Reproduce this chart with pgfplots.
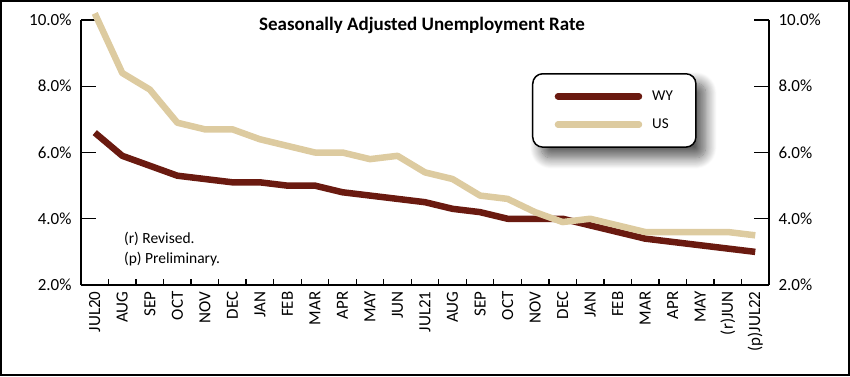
\documentclass[border=0pt]{standalone}
\usepackage{pgfplots}
\pgfplotsset{compat=1.18}
\usepackage{fontspec}
\setmainfont{Carlito}
\usetikzlibrary{shadows.blur}
\pgfdeclarelayer{background}
\pgfsetlayers{background,main}
\definecolor{wy}{HTML}{6A1A10}
\definecolor{us}{HTML}{DDCBA0}

\pgfplotstableread{
x wy us
0 6.6 10.2
1 5.9 8.4
2 5.6 7.9
3 5.3 6.9
4 5.2 6.7
5 5.1 6.7
6 5.1 6.4
7 5.0 6.2
8 5.0 6.0
9 4.8 6.0
10 4.7 5.8
11 4.6 5.9
12 4.5 5.4
13 4.3 5.2
14 4.2 4.7
15 4.0 4.6
16 4.0 4.2
17 4.0 3.9
18 3.8 4.0
19 3.6 3.8
20 3.4 3.6
21 3.3 3.6
22 3.2 3.6
23 3.1 3.6
24 3.0 3.5
}\datatable

\pgfplotsset{
  common/.style={
    scale only axis, width=688pt, height=265pt,
    xmin=-0.5, xmax=24.5, ymin=2, ymax=10,
    at={(81pt,91pt)}, anchor=south west,
    /pgf/number format/assume math mode=true,
    axis line style={line width=1.3pt, black},
    tick style={line width=1.3pt, black},
    tick align=inside,
  },
  yaxisstyle/.style={
    axis x line=none, xtick=\empty,
    ytick={2,4,6,8,10}, major tick length=15pt,
    yticklabel={\pgfmathprintnumber[fixed,fixed zerofill,precision=1]{\tick}\%},
    yticklabel style={font=\fontsize{17}{17}\selectfont},
  }
}

\begin{document}
\begin{tikzpicture}[x=1pt,y=1pt]
\draw[line width=2pt] (1,1) rectangle (849,375);

\begin{axis}[common, yaxisstyle, axis y line*=left, yticklabel shift=6pt]
\end{axis}
\begin{axis}[common, yaxisstyle, axis y line*=right, yticklabel shift=6pt]
\end{axis}

\begin{axis}[common,
  axis x line*=bottom, axis y line=none, ytick=\empty,
  xtick={0,...,24},
  xticklabels={JUL20,AUG,SEP,OCT,NOV,DEC,JAN,FEB,MAR,APR,MAY,JUN,JUL21,AUG,SEP,OCT,NOV,DEC,JAN,FEB,MAR,APR,MAY,(r)JUN,(p)JUL22},
  major tick length=0pt,
  minor xtick={0.5,1.5,...,23.5}, minor tick length=6pt,
  xticklabel style={rotate=90, anchor=east, font=\fontsize{17}{17}\selectfont},
  xticklabel shift=3pt,
  clip=false,
  legend style={name=leg, at={(0.6555,0.8)}, anchor=north west, draw=black, line width=1.5pt,
    rounded corners=10pt, fill=white,
    font=\fontsize{15}{15}\selectfont, inner xsep=22pt, inner ysep=16pt, row sep=15pt,
    column sep=9pt, nodes={inner sep=1pt}},
  legend cell align=left,
  legend image code/.code={\draw[#1, line cap=round] (0pt,0pt) -- (81pt,0pt);},
]
\addplot[wy, line width=6.5pt, line join=round] table[x=x, y=wy] {\datatable};
\addplot[us, line width=6.5pt, line join=round] table[x=x, y=us] {\datatable};
\addlegendentry{WY}
\addlegendentry{US}
\node[anchor=center, font=\bfseries\fontsize{19}{19}\selectfont] at (rel axis cs:0.4956,0.981) {Seasonally Adjusted Unemployment Rate};
\node[anchor=west, font=\fontsize{15.5}{15.5}\selectfont, inner sep=0pt] at (axis cs:1.06,3.39) {(r) Revised.};
\node[anchor=west, font=\fontsize{15.5}{15.5}\selectfont, inner sep=0pt] at (axis cs:1.06,2.79) {(p) Preliminary.};
\end{axis}
\begin{pgfonlayer}{background}
\path[rounded corners=10pt, blur shadow={shadow xshift=9pt, shadow yshift=-10pt, shadow blur steps=14, shadow blur radius=11pt, shadow opacity=65}] (leg.south west) rectangle (leg.north east);
\end{pgfonlayer}
\end{tikzpicture}
\end{document}
